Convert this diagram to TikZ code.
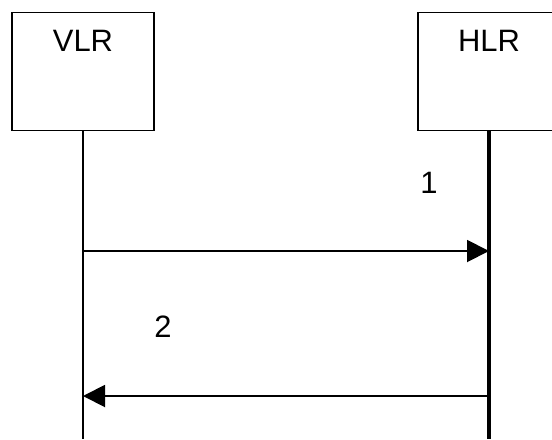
\documentclass[tikz,border=0pt]{standalone}
\usepackage{fontspec}
\setmainfont{Liberation Sans}
\usetikzlibrary{arrows.meta, positioning, calc}
\tikzset{
  every picture/.style={font=\fontsize{17.6}{20}\selectfont, line width=1.1pt},
  entity/.style={draw=black, fill=white, minimum width=2.84cm, minimum height=2.36cm, inner sep=0pt},
  title/.style={anchor=base, inner sep=0pt},
  lifeline/.style={draw=black, line width=#1},
  lifeline/.default=1.1pt,
  msg/.style={-{Triangle[length=0.44cm, width=0.44cm]}, draw=black, line width=1.1pt},
  num/.style={anchor=base, inner sep=0pt},
}

\begin{document}
\begin{tikzpicture}
  \useasboundingbox (0, 0) rectangle (11.04, -8.78);
  \node[entity] (vlr) at (1.66, -1.43) {};
  \node[entity] (hlr) at (9.78, -1.43) {};
  \node[title] (vlrname) at ($(vlr.north)+(0, -0.8)$) {VLR};
  \node[title] (hlrname) at ($(hlr.north)+(0, -0.8)$) {HLR};
  \coordinate (vlrend) at (1.66, -8.78);
  \coordinate (hlrend) at (9.78, -8.78);
  \draw[lifeline] (vlr.south) -- (vlrend);
  \draw[lifeline=1.9pt] (hlr.south) -- (hlrend);
  \coordinate (v1) at (1.66, -5.02); \coordinate (h1) at (9.78, -5.02);
  \coordinate (v2) at (1.66, -7.92); \coordinate (h2) at (9.78, -7.92);
  \draw[msg] (v1) -- (h1);
  \draw[msg] (h2) -- (v2);
  \node[num] (n1) at (8.58, -3.86) {1};
  \node[num] (n2) at (3.26, -6.74) {2};
\end{tikzpicture}
\end{document}
